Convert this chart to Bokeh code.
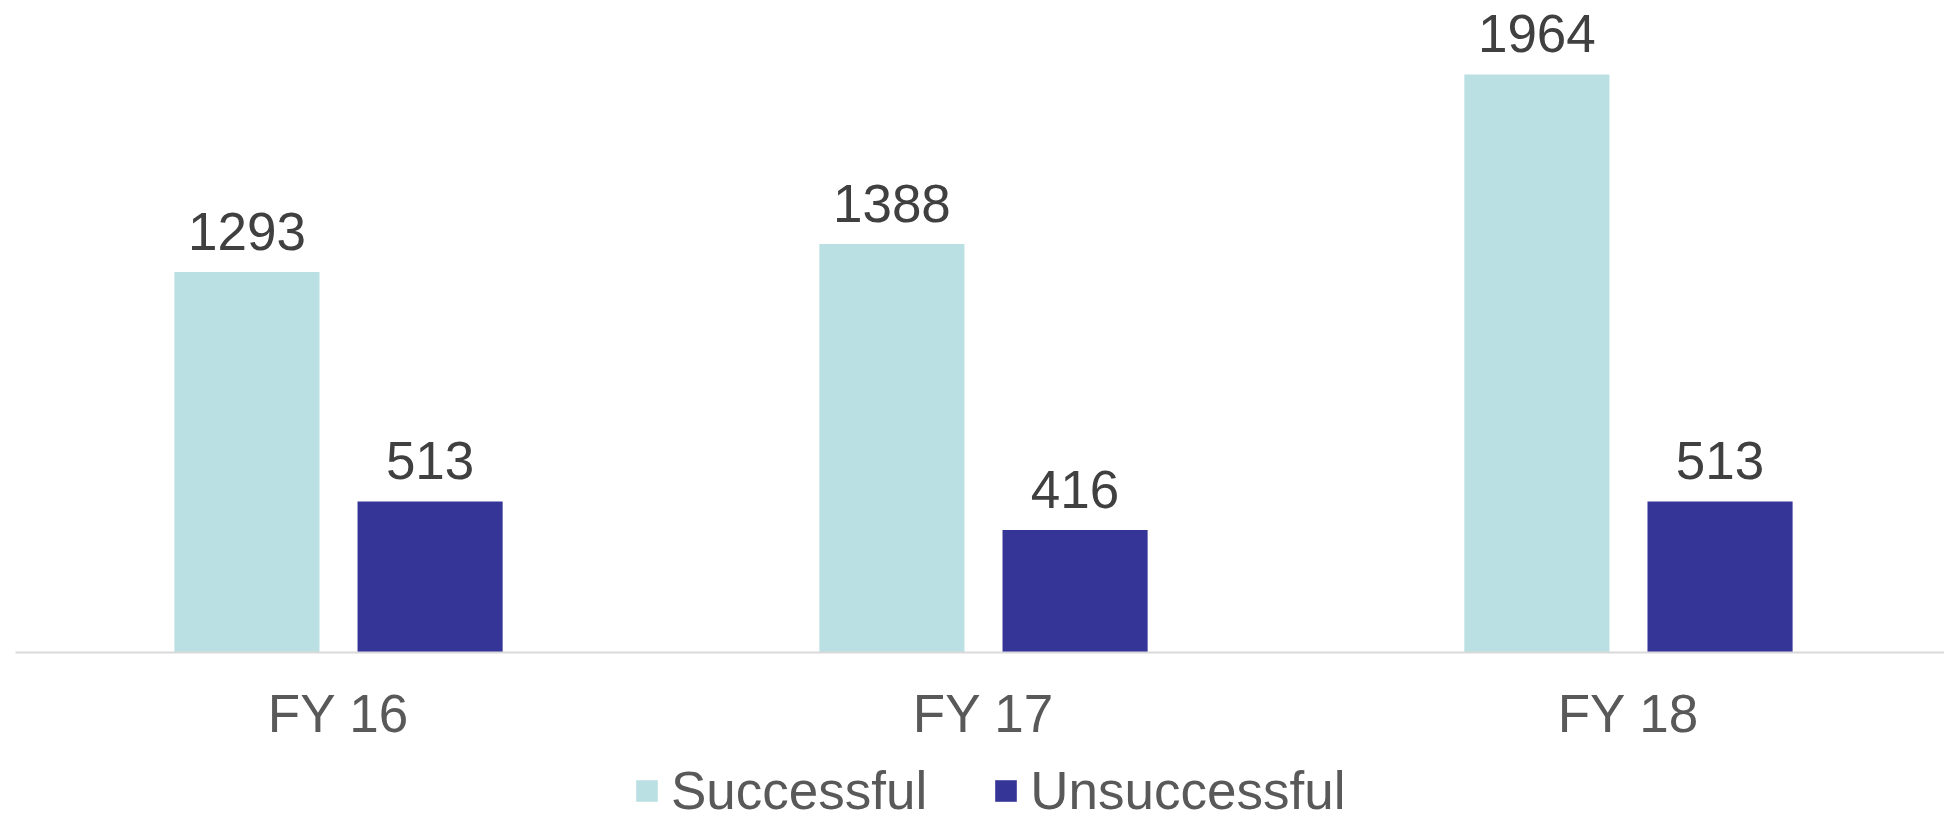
from bokeh.plotting import figure
from bokeh.layouts import column
from bokeh.models import ColumnDataSource, Range1d, FixedTicker, LabelSet, Legend, LegendItem
from bokeh.transform import dodge
from bokeh.core.properties import value
from bokeh.embed import file_html
from bokeh.resources import INLINE

categories = ["FY 16", "FY 17", "FY 18"]
successful = [1293, 1388, 1964]
unsuccessful = [513, 416, 513]
series_names = ["Successful", "Unsuccessful"]
colors = ["#BBE0E3", "#353598"]

xpos = list(range(len(categories)))
src = ColumnDataSource(dict(x=xpos, successful=successful, unsuccessful=unsuccessful,
                            s_lab=[str(v) for v in successful],
                            u_lab=[str(v) for v in unsuccessful]))

FONT = "Liberation Sans"

p = figure(width=1944, height=745, output_backend="svg", toolbar_location=None,
           x_range=Range1d(-0.5008, 2.49), y_range=Range1d(0, 2215),
           min_border_left=15, min_border_right=0, min_border_top=0, min_border_bottom=92)
p.outline_line_color = None
p.grid.visible = False
p.yaxis.visible = False
p.background_fill_color = "white"
p.border_fill_color = "white"

off = 0.142
w = 0.225
p.vbar(x=dodge("x", -off, range=p.x_range), top="successful", width=w, source=src,
       fill_color=colors[0], line_color=None)
p.vbar(x=dodge("x", off, range=p.x_range), top="unsuccessful", width=w, source=src,
       fill_color=colors[1], line_color=None)

for col, lab, o in (("successful", "s_lab", -off), ("unsuccessful", "u_lab", off)):
    ls = LabelSet(x=dodge("x", o, range=p.x_range), y=col, text=lab, source=src,
                  text_align="center", text_baseline="alphabetic", y_offset=22,
                  text_font=value(FONT), text_font_size=value("53px"), text_color="#404040")
    p.add_layout(ls)

ax = p.xaxis[0]
ax.ticker = FixedTicker(ticks=xpos)
ax.major_label_overrides = {i: c for i, c in enumerate(categories)}
ax.major_tick_line_color = None
ax.minor_tick_line_color = None
ax.axis_line_color = "#D9D9D9"
ax.axis_line_width = 2
ax.major_label_text_font = FONT
ax.major_label_text_font_size = "53px"
ax.major_label_text_color = "#595959"
ax.major_label_standoff = 25

# legend strip below the chart (hidden proxy renderers carry the legend swatches)
q = figure(width=1944, height=77, output_backend="svg", toolbar_location=None,
           x_range=Range1d(-0.5008, 2.49), y_range=Range1d(0, 2215),
           min_border_left=0, min_border_right=0, min_border_top=0, min_border_bottom=0)
q.outline_line_color = None
q.grid.visible = False
q.axis.visible = False
q.background_fill_color = "white"
q.border_fill_color = "white"
l1 = q.vbar(x="x", top="successful", width=w, source=src, fill_color=colors[0], line_color=None,
            visible=False)
l2 = q.vbar(x="x", top="unsuccessful", width=w, source=src, fill_color=colors[1], line_color=None,
            visible=False)

legend = Legend(items=[LegendItem(label=series_names[0], renderers=[l1]),
                       LegendItem(label=series_names[1], renderers=[l2])],
                orientation="horizontal", location=(618, 1),
                label_text_font=FONT, label_text_font_size="53px", label_text_color="#595959",
                glyph_width=27, glyph_height=27, label_standoff=11, spacing=65,
                padding=0, margin=0, border_line_color=None, background_fill_alpha=0,
                inactive_fill_alpha=0)
q.add_layout(legend, "center")

open("out.html", "w").write(file_html(column(p, q, spacing=0), INLINE))
